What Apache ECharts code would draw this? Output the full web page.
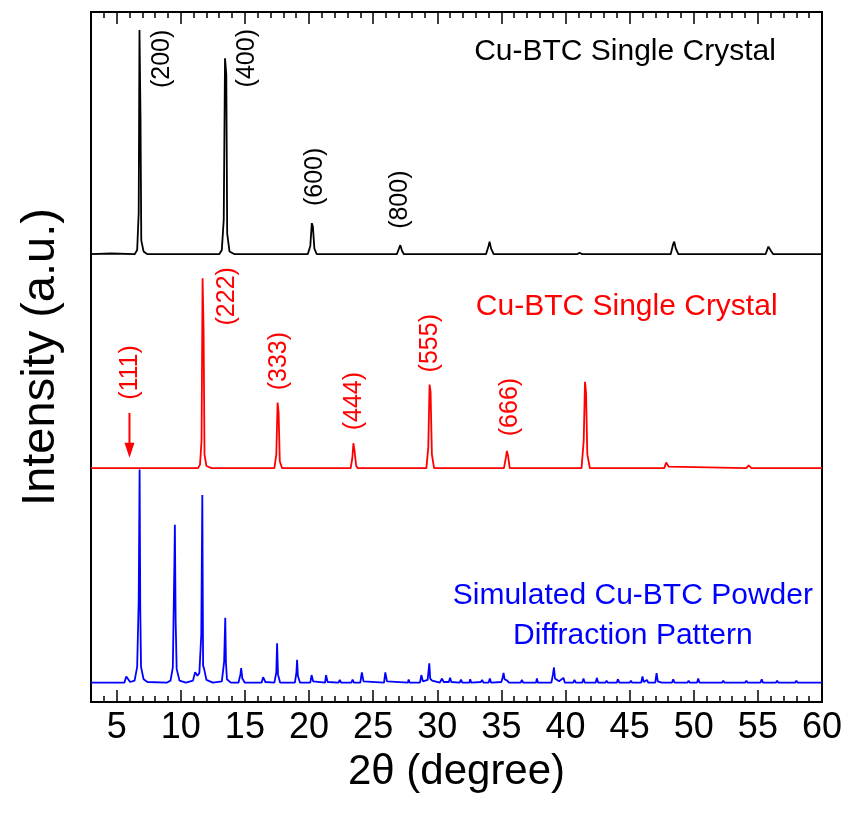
<!DOCTYPE html>
<html><head><meta charset="utf-8">
<script src="https://cdn.jsdelivr.net/npm/echarts@6/dist/echarts.min.js"></script>
<style>html,body{margin:0;padding:0;background:#fff}#c{width:851px;height:825px}</style>
</head><body><div id="c"></div>
<script>
// ---------- data (2θ in degree, intensity in arbitrary units above each trace's baseline) ----------
const xMajorTicks = [5,10,15,20,25,30,35,40,45,50,55,60];
const xMinorTicks = [3,4,6,7,8,9,11,12,13,14,16,17,18,19,21,22,23,24,26,27,28,29,31,32,33,34,36,37,38,39,41,42,43,44,46,47,48,49,51,52,53,54,56,57,58,59];

// Cu-BTC single crystal (black, top)
const blackPattern = [
 [3.0,0],[4.6,0.1],[4.7,0],[6.4,0],[6.6,0.6],[6.72,6],[6.78,32.5],[6.86,20],[6.92,2],[7.1,0.4],[7.4,0],
 [9.6,0],[9.65,0.2],[9.7,0],
 [13.0,0],[13.2,0.6],[13.35,5],[13.45,28.4],[13.55,26],[13.62,3],[13.8,0.4],[14.2,0],
 [19.9,0],[20.1,1.2],[20.22,4.5],[20.3,4.0],[20.42,0.8],[20.6,0],
 [26.85,0],[27.05,1.0],[27.12,1.3],[27.25,0.5],[27.4,0],
 [33.8,0],[34.0,1.2],[34.08,1.8],[34.2,0.8],[34.4,0],
 [40.9,0],[41.1,0.2],[41.3,0],
 [48.2,0],[48.4,1.5],[48.48,1.8],[48.6,0.8],[48.8,0],
 [55.6,0],[55.82,1.1],[55.9,1.3],[56.05,0.4],[56.2,0],
 [60,0]
];
// Cu-BTC single crystal (red, middle)
const redPattern = [
 [3,0],[5.8,0],[5.95,0.15],[6.1,0],
 [11.35,0],[11.5,0.5],[11.62,4],[11.7,27.5],[11.78,20],[11.85,2],[12.0,0.3],[12.4,0],
 [17.3,0],[17.45,2],[17.55,9.5],[17.63,8],[17.72,1],[17.9,0],
 [23.25,0],[23.38,1.5],[23.46,3.6],[23.55,2.5],[23.68,0.3],[23.8,0],
 [29.15,0],[29.3,3],[29.4,12.1],[29.48,11],[29.58,2],[29.75,0],
 [35.2,0],[35.35,1.5],[35.43,2.5],[35.52,1.8],[35.65,0],
 [41.25,0],[41.42,4],[41.52,12.5],[41.6,11],[41.7,2],[41.9,0],
 [47.7,0],[47.85,0.8],[47.92,1.0],[48.05,0.2],[48.2,0],
 [54.1,0],[54.28,0.4],[54.36,0.45],[54.5,0],
 [60,0]
];
// Simulated Cu-BTC powder pattern (blue, bottom)
const bluePattern = [
 [3,0],[5.6,0],[5.75,0.9],[5.9,0.8],[6.05,0.1],[6.4,0.3],[6.6,2.3],[6.72,12],[6.79,30.9],[6.84,11],[6.9,2.3],[7.1,0.5],[7.4,0.1],[8.9,0],
 [9.2,0.3],[9.38,2.2],[9.5,17],[9.54,22.9],[9.6,9],[9.68,2],[9.9,0.3],[10.4,0],
 [10.95,0.3],[11.12,1.5],[11.2,1.7],[11.3,1.0],[11.45,1.4],[11.6,7],[11.68,27.2],[11.74,2.5],[11.82,2],[12.0,0.4],[12.5,0],
 [13.2,0.2],[13.38,3],[13.47,9.4],[13.52,3],[13.6,0.5],[13.9,0],
 [14.5,0],[14.65,1.2],[14.71,2.1],[14.8,0.6],[15.0,0],
 [16.3,0],[16.42,0.8],[16.5,1.0],[16.6,0.1],
 [17.3,0],[17.45,1.5],[17.51,5.7],[17.58,1.2],[17.75,0],
 [18.9,0],[19.02,1.5],[19.07,3.3],[19.13,1],[19.3,0],
 [20.1,0],[20.2,1.1],[20.32,0.2],[20.4,0],
 [21.25,0],[21.33,1.1],[21.45,0.1],
 [22.3,0],[22.4,0.4],[22.5,0],
 [23.3,0],[23.4,0.45],[23.5,0],
 [24.0,0],[24.12,1.5],[24.25,0.2],[24.4,0],
 [25.85,0],[25.95,1.5],[26.08,0.2],[26.2,0],
 [27.7,0],[27.77,0.45],[27.85,0],
 [28.65,0],[28.76,1.1],[28.88,0.2],[29.25,0.4],[29.38,2.8],[29.45,0.6],[29.6,0.3],[30.2,0],
 [30.37,0.6],[30.5,0.1],[30.9,0.1],[31.0,0.7],[31.1,0.1],[31.75,0],[31.85,0.45],[31.95,0],
 [32.5,0],[32.57,0.5],[32.65,0],
 [33.4,0.1],[33.5,0.4],[33.6,0],
 [34.0,0],[34.1,0.6],[34.2,0],
 [35.0,0.1],[35.1,0.8],[35.17,1.4],[35.25,0.5],[35.45,0.3],[35.6,0],
 [36.5,0],[36.6,0.4],[36.7,0],
 [37.7,0],[37.77,0.6],[37.85,0],
 [38.9,0],[39.02,1.2],[39.1,2.2],[39.18,0.6],[39.5,0.2],[39.84,0.7],[39.95,0],
 [40.6,0],[40.7,0.4],[40.8,0],
 [41.3,0],[41.4,0.6],[41.5,0],
 [42.35,0],[42.44,0.7],[42.55,0],
 [43.1,0],[43.2,0.3],[43.3,0],
 [44.0,0],[44.08,0.5],[44.2,0],
 [45.0,0],[45.1,0.3],[45.2,0],
 [45.9,0],[46.0,0.9],[46.1,0.1],[46.35,0.4],[46.45,0],
 [47.0,0],[47.1,1.4],[47.2,0.2],[47.5,0],
 [48.3,0],[48.4,0.5],[48.5,0],
 [49.5,0],[49.6,0.3],[49.7,0],
 [50.25,0],[50.35,0.6],[50.45,0],
 [51.3,0],[51.4,0.2],[51.5,0],
 [52.2,0],[52.3,0.3],[52.4,0],
 [53.2,0],[53.3,0.2],[53.4,0],
 [54.0,0],[54.1,0.3],[54.2,0],
 [55.2,0],[55.3,0.5],[55.4,0],
 [56.4,0],[56.5,0.3],[56.6,0],
 [57.2,0],[57.3,0.2],[57.4,0],
 [57.9,0],[58.0,0.3],[58.1,0],
 [60,0]
];
const traceOffsets = [64.9, 33.9, 2.8];          // black, red, blue baselines
const traceColors  = ['#000000', '#ff0000', '#0000ff'];

// peak index labels: [text, 2θ, y-center, colorIndex]
const peakLabels = [
 ['(200)', 8.56, 93.2, 0], ['(400)', 15.18, 93.3, 0], ['(600)', 20.5, 76.1, 0], ['(800)', 27.12, 72.8, 0],
 ['(111)', 6.04, 47.75, 1], ['(222)', 13.62, 58.8, 1], ['(333)', 17.64, 49.4, 1], ['(444)', 23.48, 43.6, 1],
 ['(555)', 29.46, 52.0, 1], ['(666)', 35.69, 42.75, 1]
];
// trace titles: [text, 2θ center, y center, colorIndex]
const traceTitles = [
 ['Cu-BTC Single Crystal', 44.64, 94.2, 0],
 ['Cu-BTC Single Crystal', 44.77, 57.3, 1],
 ['Simulated Cu-BTC Powder\nDiffraction Pattern', 45.25, 12.5, 2]
];
const arrow111 = {x: 6.0, yFrom: 41.9, yTo: 35.4};

// ---------- chart ----------
const FONT = "'Liberation Sans', Arial, sans-serif";
const chart = echarts.init(document.getElementById('c'), null, {renderer: 'canvas'});
const shift = (arr, off) => arr.map(p => [p[0], p[1] + off]);
const patterns = [blackPattern, redPattern, bluePattern];

const baseX = {type: 'value', min: 3, max: 60, splitLine: {show: false}};
chart.setOption({
  animation: false,
  backgroundColor: '#fff',
  grid: {left: 91, right: 29, top: 12, bottom: 123, show: true, borderColor: '#000', borderWidth: 2, backgroundColor: 'transparent'},
  xAxis: [
    Object.assign({}, baseX, {position: 'bottom',
      name: '2θ (degree)', nameLocation: 'middle', nameGap: 49,
      nameTextStyle: {fontSize: 42, color: '#000', fontFamily: FONT},
      axisLine: {show: true, lineStyle: {color: '#000', width: 2}},
      axisTick: {show: true, inside: true, length: 12, customValues: xMajorTicks, lineStyle: {color: '#000', width: 1.5}},
      axisLabel: {show: true, customValues: xMajorTicks, fontSize: 36, color: '#000', fontFamily: FONT, margin: 8}}),
    Object.assign({}, baseX, {position: 'bottom',
      axisLine: {show: false},
      axisTick: {show: true, inside: true, length: 6, customValues: xMinorTicks, lineStyle: {color: '#000', width: 1.5}},
      axisLabel: {show: false}}),
    Object.assign({}, baseX, {position: 'top',
      axisLine: {show: true, lineStyle: {color: '#000', width: 2}},
      axisTick: {show: true, inside: true, length: 12, customValues: xMajorTicks, lineStyle: {color: '#000', width: 1.5}},
      axisLabel: {show: false}}),
    Object.assign({}, baseX, {position: 'top',
      axisLine: {show: false},
      axisTick: {show: true, inside: true, length: 6, customValues: xMinorTicks, lineStyle: {color: '#000', width: 1.5}},
      axisLabel: {show: false}})
  ],
  yAxis: [{
    type: 'value', min: 0, max: 100,
    name: 'Intensity (a.u.)', nameLocation: 'middle', nameGap: 26, nameRotate: 90,
    nameTextStyle: {fontSize: 47, color: '#000', fontFamily: FONT},
    axisLine: {show: true, lineStyle: {color: '#000', width: 2}},
    axisTick: {show: false}, axisLabel: {show: false}, splitLine: {show: false}
  }],
  series: patterns.map((p, i) => ({
    type: 'line', xAxisIndex: 0, yAxisIndex: 0,
    data: shift(p, traceOffsets[i]),
    showSymbol: false, symbol: 'none', smooth: false,
    lineStyle: {color: traceColors[i], width: 1.8},
    z: 3 - i
  }))
});

const px = (x, y) => chart.convertToPixel({xAxisIndex: 0, yAxisIndex: 0}, [x, y]);
const graphics = [];
peakLabels.forEach(([t, x, y, c]) => {
  const p = px(x, y);
  graphics.push({type: 'text', x: p[0], y: p[1], rotation: Math.PI / 2, z: 10,
    style: {text: t, font: '25px ' + FONT, fill: traceColors[c], align: 'center', verticalAlign: 'middle'}});
});
traceTitles.forEach(([t, x, y, c]) => {
  const p = px(x, y);
  graphics.push({type: 'text', x: p[0], y: p[1], z: 10,
    style: {text: t, font: '30px ' + FONT, fill: traceColors[c], align: 'center', verticalAlign: 'middle', lineHeight: 40}});
});
const a0 = px(arrow111.x, arrow111.yFrom), a1 = px(arrow111.x, arrow111.yTo);
graphics.push({type: 'line', z: 10, shape: {x1: a0[0], y1: a0[1], x2: a1[0], y2: a1[1] - 10},
  style: {stroke: traceColors[1], lineWidth: 2}});
graphics.push({type: 'polygon', z: 10, shape: {points: [[a1[0] - 5, a1[1] - 15], [a1[0] + 5, a1[1] - 15], [a1[0], a1[1]]]},
  style: {fill: traceColors[1]}});
chart.setOption({graphic: graphics});
</script>
</body></html>
